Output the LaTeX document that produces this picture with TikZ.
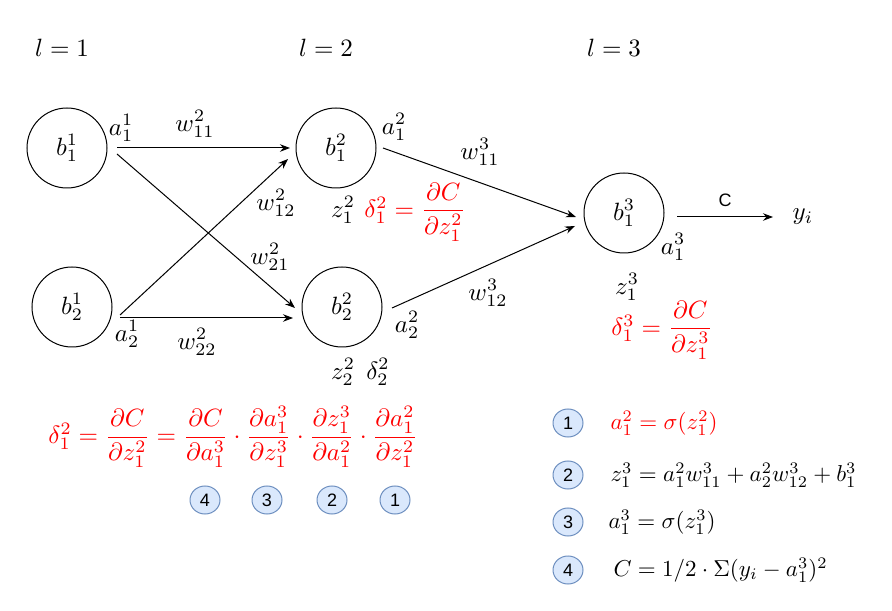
\documentclass[tikz,border=0pt]{standalone}
\usepackage{fontspec}
\usepackage{amsmath}
\newfontfamily\helv{Liberation Sans}
\usetikzlibrary{arrows.meta,shapes.geometric}
\definecolor{myred}{HTML}{FF0000}
\definecolor{numfill}{HTML}{DAE8FC}
\definecolor{numdraw}{HTML}{6C8EBF}
\newcommand{\listeq}[1]{\scalebox{0.92}{#1}}
\begin{document}
\begin{tikzpicture}[x=0.4pt,y=-0.4pt,
  neuron/.style={circle,draw,line width=0.4pt,minimum size=32pt,inner sep=0pt},
  conn/.style={-{Stealth[length=4pt,width=3pt]},line width=0.4pt},
  lbl/.style={inner sep=0pt},
  redlbl/.style={inner sep=0pt,text=myred},
  num/.style={ellipse,draw=numdraw,fill=numfill,line width=0.4pt,minimum width=12pt,minimum height=11.2pt,inner sep=0pt,font=\helv\fontsize{7.2}{8}\selectfont},
  sanslbl/.style={inner sep=0pt,font=\helv\fontsize{7.2}{8}\selectfont}]
\useasboundingbox (0,0) rectangle (892,611);
% layer labels
\node[lbl] (l1) at (62,48) {$l=1$};
\node[lbl] (l2) at (326,48) {$l=2$};
\node[lbl] (l3) at (614,48) {$l=3$};
% neurons
\node[neuron] (b11) at (67,148) {$b_1^1$};
\node[neuron] (b21) at (72,307) {$b_2^1$};
\node[neuron] (b12) at (336,148) {$b_1^2$};
\node[neuron] (b22) at (342,307) {$b_2^2$};
\node[neuron] (b13) at (624,213) {$b_1^3$};
% connector end points
\coordinate (s1) at (117,148); \coordinate (t1) at (290,148);
\coordinate (s2) at (117,154); \coordinate (t2) at (295,308);
\coordinate (s3) at (120,315); \coordinate (t3) at (288,159);
\coordinate (s4) at (120,318); \coordinate (t4) at (293,318);
\coordinate (s5) at (383,148); \coordinate (t5) at (576,217);
\coordinate (s6) at (392,308); \coordinate (t6) at (575,226);
\coordinate (s7) at (677,217);
\node[lbl] (yi) at (803,217) {$y_i$};
\coordinate (t7) at (773,217);
% connectors
\draw[conn] (s1) -- (t1);
\draw[conn] (s2) -- (t2);
\draw[conn] (s3) -- (t3);
\draw[conn] (s4) -- (t4);
\draw[conn] (s5) -- (t5);
\draw[conn] (s6) -- (t6);
\draw[conn] (s7) -- (t7);
% labels
\node[lbl] (a11) at (121,128) {$a_1^1$};
\node[lbl] (w112) at (195,124) {$w_{11}^2$};
\node[lbl] (w122) at (276,203) {$w_{12}^2$};
\node[lbl] (w212) at (270,257) {$w_{21}^2$};
\node[lbl] (w222) at (197,342) {$w_{22}^2$};
\node[lbl] (a21) at (127,334) {$a_2^1$};
\node[lbl] (a12) at (394,127) {$a_1^2$};
\node[lbl] (z12) at (343,210) {$z_1^2$};
\node[redlbl] (d12) at (415,212) {$\delta_1^2=\dfrac{\partial C}{\partial z_1^2}$};
\node[lbl] (a22) at (407,325) {$a_2^2$};
\node[lbl] (z22) at (343,372) {$z_2^2$};
\node[lbl] (dd22) at (378,372) {$\delta_2^2$};
\node[lbl] (w113) at (480,152) {$w_{11}^3$};
\node[lbl] (w123) at (488,293) {$w_{12}^3$};
\node[lbl] (a13) at (673,247) {$a_1^3$};
\node[lbl] (z13) at (627,287) {$z_1^3$};
\node[redlbl] (d13) at (662,330) {$\delta_1^3=\dfrac{\partial C}{\partial z_1^3}$};
\node[sanslbl] (clbl) at (725,200) {C};
% chain rule
\node[redlbl] (chain) at (233,437) {$\delta_1^2=\dfrac{\partial C}{\partial z_1^2}=\dfrac{\partial C}{\partial a_1^3}\cdot\dfrac{\partial a_1^3}{\partial z_1^3}\cdot\dfrac{\partial z_1^3}{\partial a_1^2}\cdot\dfrac{\partial a_1^2}{\partial z_1^2}$};
\node[num] (n4b) at (205,500) {4};
\node[num] (n3b) at (267,500) {3};
\node[num] (n2b) at (332,500) {2};
\node[num] (n1b) at (395,500) {1};
% list
\node[num] (r1) at (568,423) {1};
\node[num] (r2) at (568,475) {2};
\node[num] (r3) at (568,522) {3};
\node[num] (r4) at (568,570) {4};
\node[redlbl,anchor=west] (e1) at (610,423) {\listeq{$a_1^2=\sigma(z_1^2)$}};
\node[lbl,anchor=west] (e2) at (610,475) {\listeq{$z_1^3=a_1^2w_{11}^3+a_2^2w_{12}^3+b_1^3$}};
\node[lbl,anchor=west] (e3) at (608,522) {\listeq{$a_1^3=\sigma(z_1^3)$}};
\node[lbl,anchor=west] (e4) at (613,570) {\listeq{$C=1/2\cdot\Sigma(y_i-a_1^3)^2$}};
\end{tikzpicture}
\end{document}
